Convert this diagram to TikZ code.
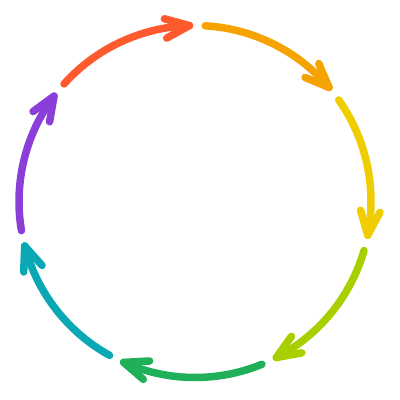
\documentclass[tikz,border=0pt]{standalone}
\usetikzlibrary{calc}
\definecolor{cA}{HTML}{FF5A2E}
\definecolor{cB}{HTML}{F5A300}
\definecolor{cC}{HTML}{EFCD00}
\definecolor{cD}{HTML}{A8CF00}
\definecolor{cE}{HTML}{20B05A}
\definecolor{cF}{HTML}{0AA8B5}
\definecolor{cG}{HTML}{8A3FD8}
\tikzset{ring/.style={line width=7.5pt, line cap=round, line join=round}}
\begin{document}
\begin{tikzpicture}[x=1pt,y=1pt]
\useasboundingbox (0,0) rectangle (400,400);
\coordinate (c) at (195,198.5);
\foreach \k/\col in {0/cA,1/cB,2/cC,3/cD,4/cE,5/cF,6/cG}{
  \pgfmathsetmacro\s{138.1-51.4286*\k}
  \pgfmathsetmacro\e{\s-46.3}
  \draw[ring,\col] (c) ++(\s:176) arc[start angle=\s, end angle=\e, radius=176];
  \coordinate (t) at ($(c)+(\e:176)$);
  \draw[ring,\col] ($(t)+(\e+117:26)$) -- (t) -- ($(t)+(\e+73:26)$);
}
\end{tikzpicture}
\end{document}
